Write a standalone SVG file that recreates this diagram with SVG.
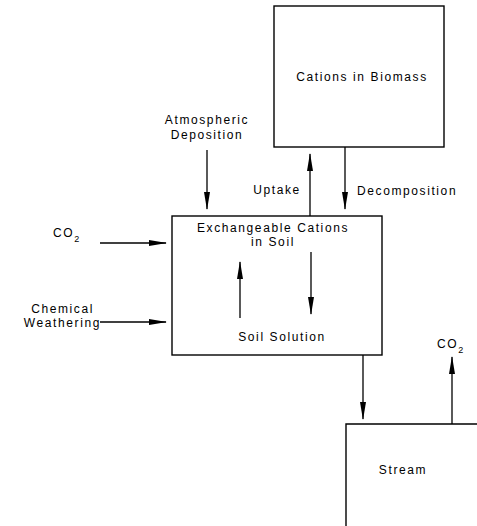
<svg xmlns="http://www.w3.org/2000/svg" width="477" height="526" viewBox="0 0 477 526">
<defs>
<marker id="ah" markerWidth="18" markerHeight="6" refX="17" refY="3" orient="auto" markerUnits="userSpaceOnUse" viewBox="0 0 18 6">
<path d="M0,0 L18,3 L0,6 Z" fill="#000"/>
</marker>
<style>
.box{fill:#fff;stroke:#000;stroke-width:1.4}
.t{font-family:"Liberation Sans",Arial,sans-serif;font-size:12px;letter-spacing:1.6px;fill:#000}
.c{stroke:#000;stroke-width:1.3;fill:none;marker-end:url(#ah)}
</style>
</defs>
<rect width="477" height="526" fill="#fff"/>
<g id="biomass">
<rect class="box" x="274" y="6" width="170" height="141"/>
<text class="t" x="362" y="81" text-anchor="middle">Cations in Biomass</text>
</g>
<g id="soil">
<rect class="box" x="172" y="216" width="210" height="139"/>
<text class="t" x="273" y="232" text-anchor="middle">Exchangeable Cations</text>
<text class="t" x="273" y="246" text-anchor="middle">in Soil</text>
<text class="t" x="282" y="341" text-anchor="middle">Soil  Solution</text>
</g>
<g id="stream">
<path class="box" d="M346,526 L346,424 L478,424"/>
<text class="t" x="403" y="474" text-anchor="middle">Stream</text>
</g>
<g id="labels">
<text class="t" x="207" y="124" text-anchor="middle">Atmospheric</text>
<text class="t" x="207" y="139" text-anchor="middle">Deposition</text>
<text class="t" x="277" y="194" text-anchor="middle">Uptake</text>
<text class="t" x="357" y="195">Decomposition</text>
<text class="t" x="53" y="237">CO<tspan font-size="9" dy="5">2</tspan></text>
<text class="t" x="94" y="313" text-anchor="end">Chemical</text>
<text class="t" x="101" y="327" text-anchor="end">Weathering</text>
<text class="t" x="437" y="348">CO<tspan font-size="9" dy="5">2</tspan></text>
</g>
<g id="connectors">
<line class="c" x1="207" y1="150" x2="207" y2="209"/>
<line class="c" x1="310" y1="216" x2="310" y2="154"/>
<line class="c" x1="345" y1="147" x2="345" y2="209"/>
<line class="c" x1="100" y1="243" x2="166" y2="243"/>
<line class="c" x1="100" y1="322" x2="166" y2="322"/>
<line class="c" x1="240" y1="318" x2="240" y2="262"/>
<line class="c" x1="311" y1="252" x2="311" y2="314"/>
<line class="c" x1="363" y1="355" x2="363" y2="419"/>
<line class="c" x1="452" y1="424" x2="452" y2="357"/>
</g>
</svg>
